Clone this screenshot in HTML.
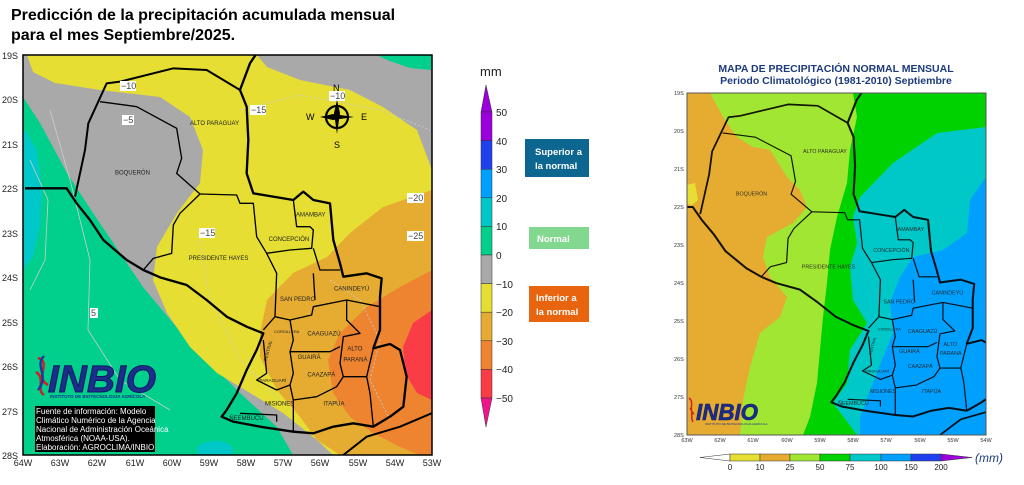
<!DOCTYPE html>
<html><head><meta charset="utf-8"><style>
body{margin:0;background:#fff;width:1024px;height:480px;overflow:hidden;font-family:"Liberation Sans",sans-serif}
</style></head><body>
<svg width="1024" height="480" viewBox="0 0 1024 480" xmlns="http://www.w3.org/2000/svg" font-family="Liberation Sans, sans-serif">
<defs>
<clipPath id="cl"><rect x="23" y="55" width="409" height="400"/></clipPath>
<clipPath id="cr"><rect x="687" y="93" width="299" height="342"/></clipPath>
<g id="pry">
 <g fill="none" stroke="#000" stroke-linejoin="round">
  <path stroke-width="7" d="M75,445 L200,445 L230,490 L270,540 L310,600 L380,660 L430,690 L480,712 L560,735 L620,780 L680,830 L740,860 L790,880 L770,930 L740,990 L710,1060 L680,1110 L665,1130 L700,1145 L780,1160 L880,1175 L940,1180 L1000,1160 L1060,1150 L1120,1160 L1170,1130 L1210,1100 L1220,1010 L1200,930 L1170,912 L1120,925 L1140,870 L1140,770 L1145,715 L1100,700 L1030,710 L1020,670 L1000,600 L990,490 L940,480 L910,455 L880,480 L760,460 L740,400 L745,300 L740,200 L720,150 L750,70 L770,40"/>
  <path stroke-width="6" d="M720,150 L620,90 L520,85 L360,125 L320,130 L265,250 L255,330 L225,470"/>
  <path stroke-width="6" d="M1030,1245 L1100,1190 L1200,1160 L1295,1120"/>
  <path stroke-width="4" d="M300,185 L410,200 L530,265 L545,355 L530,400 L600,462 L540,520 L520,555 L515,640 L460,655 L430,690"/>
  <path stroke-width="4" d="M600,462 L710,465 L720,490 L760,490 L770,590 L800,640 L870,630 L935,625 L940,570 L930,560 L890,560 L880,480"/>
  <path stroke-width="4" d="M940,625 L960,690 L1020,690"/>
  <path stroke-width="4" d="M800,640 L830,700 L825,830 L790,870 M825,830 L870,840 L935,825 L940,800 L1040,780 L1140,800 M940,700 L945,780 M1040,780 L1040,840 L1080,880 L1030,890 L1020,970 L1030,1010 L1100,1010 L1120,925"/>
  <path stroke-width="4" d="M870,840 L880,900 L870,935 L990,935 L1020,920 M790,900 L800,1000 L770,1020 L830,1050 L870,1035 L880,1080 L950,1070 L1010,1040 L1030,1010 M870,935 L880,1000 L870,1035 M880,1080 L880,1175 M720,1120 L830,1125 L830,1145 M1100,1010 L1110,1060 L1120,1160"/>
 </g>
 <g font-size="18" fill="#222">
  <text x="570" y="255">ALTO PARAGUAY</text>
  <text x="345" y="404">BOQUERÓN</text>
  <text x="566" y="660">PRESIDENTE HAYES</text>
  <text x="888" y="530">AMAMBAY</text>
  <text x="806" y="603">CONCEPCIÓN</text>
  <text x="1002" y="752">CANINDEYÚ</text>
  <text x="840" y="783">SAN PEDRO</text>
  <text x="822" y="879" font-size="12">CORDILLERA</text>
  <text x="922" y="887">CAAGUAZÚ</text>
  <text x="1042" y="932">ALTO</text>
  <text x="1030" y="965">PARANÁ</text>
  <text x="893" y="957">GUAIRÁ</text>
  <text x="922" y="1010">CAAZAPÁ</text>
  <text x="778" y="1026" font-size="14">PARAGUARÍ</text>
  <text x="795" y="1097">MISIONES</text>
  <text x="970" y="1097">ITAPÚA</text>
  <text x="688" y="1140">ÑEEMBUCÚ</text>
  <text x="0" y="0" font-size="14" transform="translate(800,965) rotate(-75)">CENTRAL</text>
 </g>
</g>
</defs>

<text x="11" y="20" font-size="16" font-weight="bold">Predicción de la precipitación acumulada mensual</text>
<text x="11" y="40" font-size="16" font-weight="bold">para el mes Septiembre/2025.</text>

<!-- LEFT MAP -->
<g clip-path="url(#cl)">
 <rect x="23" y="55" width="409" height="400" fill="#a9a9a9"/>
 <path fill="#00d08c" d="M23,97 L40,123 L67,173 L93,213 L120,253 L143,287 L173,323 L207,360 L240,393 L277,427 L293,455 L23,455Z"/>
 <path fill="#00c8c8" d="M23,127 L37,150 L42,190 L40,227 L33,257 L23,270Z"/>
 <ellipse cx="215" cy="450" rx="18" ry="9" fill="#00c8c8"/>
 <path fill="#e6de32" d="M27,55 L257,55 L267,67 L300,80 L350,90 L383,107 L417,130 L432,170 L432,455 L333,455 L317,440 L283,413 L250,393 L217,373 L190,347 L167,313 L153,280 L157,247 L177,213 L200,183 L203,150 L190,117 L160,97 L100,90 L55,83 L33,72Z"/>
 <path fill="#e6ac32" d="M432,190 L383,207 L350,233 L327,257 L293,273 L267,300 L260,333 L260,357 L277,390 L300,417 L317,440 L340,455 L432,455Z"/>
 <path fill="#ee8430" d="M432,270 L400,287 L367,307 L340,333 L328,360 L333,393 L350,417 L373,433 L400,447 L420,455 L432,455Z"/>
 <path fill="#fa3c46" d="M432,310 L413,323 L403,347 L405,373 L417,393 L432,400Z"/>
 <path fill="#00d08c" d="M377,55 L432,55 L432,70 L410,68 L387,60Z"/>
 <g fill="none" stroke="#ccc" stroke-width="0.8" stroke-dasharray="2,2">
  <path d="M240,110 L300,95 L380,110 L430,130"/>
  <path d="M200,240 L210,300 L240,360 L280,400"/>
  <path d="M330,280 L360,300 L380,340 L370,380 L390,420"/>
 </g>
 <path fill="none" stroke="#ccc" stroke-width="0.8" d="M50,110 L70,180 L90,260 L88,330 L120,380 L170,410 M30,160 L48,200 L45,260 L30,290"/>
 <g transform="translate(0,40) scale(0.33333)"><use href="#pry"/></g>
 <g font-size="9" fill="#444">
  <rect x="120" y="81" width="16" height="10" fill="#fff"/><text x="121" y="89">−10</text>
  <rect x="122" y="115" width="12" height="10" fill="#fff"/><text x="123" y="123">−5</text>
  <rect x="250" y="105" width="16" height="10" fill="#fff"/><text x="251" y="113">−15</text>
  <rect x="329" y="91" width="16" height="10" fill="#fff"/><text x="330" y="99">−10</text>
  <rect x="199" y="228" width="16" height="10" fill="#fff"/><text x="200" y="236">−15</text>
  <rect x="407" y="193" width="17" height="10" fill="#fff"/><text x="408" y="201">−20</text>
  <rect x="407" y="231" width="17" height="10" fill="#fff"/><text x="408" y="239">−25</text>
  <rect x="90" y="308" width="8" height="10" fill="#fff"/><text x="91" y="316">5</text>
 </g>
 <g fill="#000" font-size="9">
  <path d="M337,100 L340,113 L337,134 L334,113Z M320,117 L333,114 L354,117 L333,120Z"/>
  <circle cx="337" cy="117" r="11" fill="none" stroke="#000" stroke-width="2.2"/>
  <text x="333" y="91">N</text><text x="334" y="148">S</text><text x="306" y="120">W</text><text x="361" y="120">E</text>
 </g>
 <path d="M38,358 C52,362 34,378 48,385 M36,372 C46,378 36,390 44,395" stroke="#d02020" stroke-width="2.5" fill="none"/>
 <path d="M44,356 C34,366 50,375 38,390" stroke="#1a3aa0" stroke-width="2.5" fill="none"/>
 <text x="48" y="392" font-size="38" font-weight="bold" font-style="italic" fill="#1c2d8c" stroke="#0d1a60" stroke-width="1" textLength="108" lengthAdjust="spacingAndGlyphs">INBIO</text>
 <text x="50" y="398" font-size="4.5" font-weight="bold" fill="#1c2d8c">INSTITUTO DE BIOTECNOLOGÍA AGRÍCOLA</text>
 <g font-size="8" fill="#fff">
  <rect x="35" y="406" width="120" height="46" fill="#000"/>
  <text x="36" y="414">Fuente de información: Modelo</text>
  <text x="36" y="423">Climático Numérico de la Agencia</text>
  <text x="36" y="432">Nacional de Administración Oceánica</text>
  <text x="36" y="441">Atmosférica (NOAA-USA).</text>
  <text x="36" y="450">Elaboración: AGROCLIMA/INBIO</text>
 </g>
</g>
<rect x="23" y="55" width="409" height="400" fill="none" stroke="#000" stroke-width="1.5"/>
<g font-size="9" fill="#222">
 <text x="2" y="59">19S</text><text x="2" y="103">20S</text><text x="2" y="148">21S</text><text x="2" y="192">22S</text><text x="2" y="237">23S</text><text x="2" y="281">24S</text><text x="2" y="326">25S</text><text x="2" y="370">26S</text><text x="2" y="415">27S</text><text x="2" y="459">28S</text>
 <g text-anchor="middle">
 <text x="23" y="466">64W</text><text x="60" y="466">63W</text><text x="97" y="466">62W</text><text x="135" y="466">61W</text><text x="172" y="466">60W</text><text x="209" y="466">59W</text><text x="246" y="466">58W</text><text x="283" y="466">57W</text><text x="320" y="466">56W</text><text x="358" y="466">55W</text><text x="395" y="466">54W</text><text x="432" y="466">53W</text>
 </g>
</g>

<!-- COLORBAR -->
<text x="480" y="76" font-size="13" fill="#222">mm</text>
<path d="M486,85 L492,112 L481,112Z" fill="#9b00dc" stroke="#333" stroke-width="0.5"/>
<g stroke="#333" stroke-width="0.5">
<rect x="481" y="112" width="11" height="28.6" fill="#9b00dc"/>
<rect x="481" y="140.6" width="11" height="28.6" fill="#2040f0"/>
<rect x="481" y="169.2" width="11" height="28.6" fill="#00a0ff"/>
<rect x="481" y="197.8" width="11" height="28.6" fill="#00c8c8"/>
<rect x="481" y="226.4" width="11" height="28.6" fill="#00d08c"/>
<rect x="481" y="255" width="11" height="28.6" fill="#a9a9a9"/>
<rect x="481" y="283.6" width="11" height="28.6" fill="#e6de32"/>
<rect x="481" y="312.2" width="11" height="28.6" fill="#e6ac32"/>
<rect x="481" y="340.8" width="11" height="28.6" fill="#ee8430"/>
<rect x="481" y="369.4" width="11" height="28.6" fill="#fa3c46"/>
</g>
<path d="M481,398 L492,398 L486,427Z" fill="#f0148c" stroke="#333" stroke-width="0.5"/>
<g font-size="10" fill="#222">
<text x="496" y="116">50</text><text x="496" y="145">40</text><text x="496" y="173">30</text><text x="496" y="202">20</text><text x="496" y="230">10</text><text x="496" y="259">0</text><text x="496" y="288">−10</text><text x="496" y="316">−20</text><text x="496" y="345">−30</text><text x="496" y="373">−40</text><text x="496" y="402">−50</text>
</g>
<rect x="525" y="139" width="64" height="38" fill="#0d6690"/>
<text x="535" y="155" font-size="9.5" font-weight="bold" fill="#fff">Superior a</text>
<text x="535" y="169" font-size="9.5" font-weight="bold" fill="#fff">la normal</text>
<rect x="529" y="227" width="60" height="22" fill="#82d88e"/>
<text x="537" y="242" font-size="9.5" font-weight="bold" fill="#fff">Normal</text>
<rect x="529" y="286" width="60" height="36" fill="#e8640e"/>
<text x="536" y="301" font-size="9.5" font-weight="bold" fill="#fff">Inferior a</text>
<text x="536" y="315" font-size="9.5" font-weight="bold" fill="#fff">la normal</text>

<!-- RIGHT MAP -->
<text x="836" y="72" font-size="10.5" font-weight="bold" fill="#1c3a7c" text-anchor="middle">MAPA DE PRECIPITACIÓN  NORMAL MENSUAL</text>
<text x="836" y="84" font-size="10.5" font-weight="bold" fill="#1c3a7c" text-anchor="middle">Periodo Climatológico (1981-2010)  Septiembre</text>
<g clip-path="url(#cr)">
 <rect x="687" y="93" width="299" height="342" fill="#00a0ff"/>
 <path fill="#00c8c8" d="M986,93 L986,177 L970,200 L967,233 L943,250 L913,257 L900,277 L890,303 L893,333 L883,357 L873,383 L860,417 L860,435 L687,435 L687,93Z"/>
 <path fill="#00d200" d="M986,93 L986,127 L937,133 L893,163 L860,197 L853,217 L857,243 L850,267 L853,300 L867,323 L850,350 L847,383 L833,403 L857,435 L687,435 L687,93Z"/>
 <path fill="#a0e632" d="M853,93 L857,117 L850,150 L847,183 L837,217 L830,250 L827,283 L823,317 L820,350 L817,383 L810,417 L803,435 L687,435 L687,93Z"/>
 <path fill="#e6ac32" d="M687,93 L710,93 L723,117 L737,137 L753,147 L770,150 L787,177 L800,190 L807,207 L793,223 L767,237 L763,257 L770,277 L787,297 L780,317 L760,333 L750,367 L743,400 L740,435 L687,435Z"/>
 <path fill="#e6de32" d="M687,185 L695,183 L698,200 L692,205 L687,204Z"/>
 <g transform="matrix(0.8935,0,0,0.855,633.2,45.97)"><g transform="translate(0,40) scale(0.33333)" opacity="0.9"><use href="#pry"/></g></g>
 <path d="M689,398 C695,402 688,410 694,414 M690,408 C694,412 690,418 693,422" stroke="#d02020" stroke-width="1.5" fill="none"/>
 <text x="696" y="420" font-size="23" font-weight="bold" font-style="italic" fill="#1c2d8c" stroke="#0d1a60" stroke-width="0.6" textLength="62" lengthAdjust="spacingAndGlyphs">INBIO</text>
 <text x="705" y="425" font-size="3" fill="#1c2d8c">INSTITUTO DE BIOTECNOLOGÍA AGRÍCOLA</text>
</g>
<rect x="687" y="93" width="299" height="342" fill="none" stroke="#555" stroke-width="1"/>
<g font-size="5.5" fill="#333">
 <text x="674" y="95">19S</text><text x="674" y="133">20S</text><text x="674" y="171">21S</text><text x="674" y="209">22S</text><text x="674" y="247">23S</text><text x="674" y="285">24S</text><text x="674" y="323">25S</text><text x="674" y="361">26S</text><text x="674" y="399">27S</text><text x="674" y="437">28S</text>
 <g text-anchor="middle">
 <text x="687" y="442">63W</text><text x="720" y="442">62W</text><text x="753" y="442">61W</text><text x="787" y="442">60W</text><text x="820" y="442">59W</text><text x="853" y="442">58W</text><text x="886" y="442">57W</text><text x="920" y="442">56W</text><text x="953" y="442">55W</text><text x="986" y="442">54W</text>
 </g>
</g>
<g stroke="#333" stroke-width="0.5">
 <path d="M700,457.5 L730,454 L730,461Z" fill="#fff"/>
 <rect x="730" y="454" width="30" height="7" fill="#e6de32"/>
 <rect x="760" y="454" width="30" height="7" fill="#e6ac32"/>
 <rect x="790" y="454" width="30" height="7" fill="#a0e632"/>
 <rect x="820" y="454" width="30" height="7" fill="#00d200"/>
 <rect x="850" y="454" width="31" height="7" fill="#00c8c8"/>
 <rect x="881" y="454" width="30" height="7" fill="#00a0ff"/>
 <rect x="911" y="454" width="30" height="7" fill="#2040f0"/>
 <path d="M941,454 L972,457.5 L941,461Z" fill="#9b00dc"/>
</g>
<g font-size="8" fill="#222" text-anchor="middle">
 <text x="730" y="470">0</text><text x="760" y="470">10</text><text x="790" y="470">25</text><text x="820" y="470">50</text><text x="850" y="470">75</text><text x="881" y="470">100</text><text x="911" y="470">150</text><text x="941" y="470">200</text>
</g>
<text x="975" y="462" font-size="12" font-style="italic" fill="#1c3a7c">(mm)</text>
</svg>
</body></html>
